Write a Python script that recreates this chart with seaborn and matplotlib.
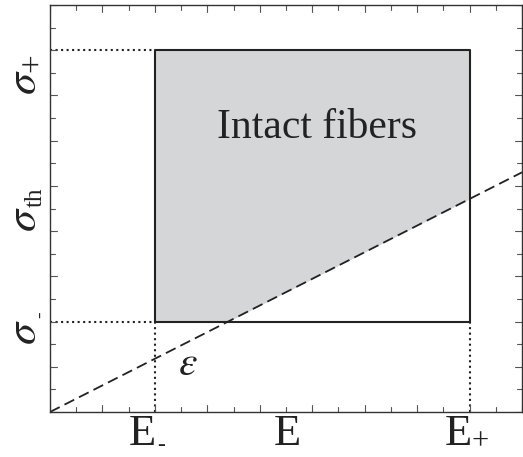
import numpy as np
import matplotlib.pyplot as plt
import seaborn as sns

# Data (axis units: 0..9 on both axes)
e_bounds = [2.0, 8.0]          # E-, E+
sig_bounds = [2.0, 8.0]        # sigma-, sigma+
eps_x = [0.0, 9.0]             # dashed line through origin
eps_y = [0.0, 5.3]

# axis labels: main glyph, subscript, where they sit along the axis
x_label_main = ['E', 'E', 'E']
x_label_sub = ['-', '', '+']
x_label_pos = [1.76, 4.53, 7.79]
y_label_main = ['$\\sigma$', '$\\sigma$', '$\\sigma$']
y_label_sub = ['-', 'th', '+']
y_label_pos = [1.76, 4.27, 7.29]

sns.set_theme(style="ticks")
plt.rcParams['font.family'] = ['Liberation Serif', 'DejaVu Serif']
plt.rcParams['mathtext.fontset'] = 'stix'

fig = plt.figure(figsize=(5.23, 4.57), dpi=100)
ax = fig.add_axes([50 / 523, 1 - 412 / 457, 472 / 523, 407 / 457])
ink = '#222222'

# shaded region above the dashed line inside the box
slope = eps_y[1] / eps_x[1]
x_cross = sig_bounds[0] / slope
xs = np.array([e_bounds[0], x_cross, e_bounds[1]])
lower = np.maximum(slope * xs, sig_bounds[0])
ax.fill_between(xs, lower, sig_bounds[1], color='#d5d6d8', lw=0)

# box
bx = [e_bounds[0], e_bounds[1], e_bounds[1], e_bounds[0], e_bounds[0]]
by = [sig_bounds[0], sig_bounds[0], sig_bounds[1], sig_bounds[1], sig_bounds[0]]
ax.plot(bx, by, color=ink, lw=1.5)

# dotted guides
ax.plot([0, e_bounds[0]], [sig_bounds[1], sig_bounds[1]], ls=':', color=ink, lw=1.5)
ax.plot([0, e_bounds[0]], [sig_bounds[0], sig_bounds[0]], ls=':', color=ink, lw=1.5)
ax.plot([e_bounds[0], e_bounds[0]], [0, sig_bounds[0]], ls=':', color=ink, lw=1.5)
ax.plot([e_bounds[1], e_bounds[1]], [0, sig_bounds[0]], ls=':', color=ink, lw=1.5)

# dashed epsilon line
sns.lineplot(x=eps_x, y=eps_y, ax=ax, color=ink, lw=1.3)
ax.lines[-1].set_dashes([6, 3])

ax.text(5.1, 6.28, 'Intact fibers', fontsize=30, ha='center', va='center', color=ink)
ax.text(2.63, 1.04, '$\\varepsilon$', fontsize=30, ha='center', va='center', color=ink)

ax.set_xlim(0, 9)
ax.set_ylim(0, 9)
ax.set_xticks([])
ax.set_yticks([])

# x labels (E with subscripts)
xt = ax.get_xaxis_transform()
x_base = -0.081
sub_off_x = {'-': (18.5, -6, 17), '+': (22, -4, 22)}
for main, sub, pos in zip(x_label_main, x_label_sub, x_label_pos):
    ax.annotate(main, xy=(pos, x_base), xycoords=xt, fontsize=32,
                ha='center', va='baseline', color=ink, annotation_clip=False)
    if sub:
        dx, dy, fs = sub_off_x[sub]
        ax.annotate(sub, xy=(pos, x_base), xycoords=xt, xytext=(dx, dy),
                    textcoords='offset pixels', fontsize=fs, ha='center',
                    va='baseline', color=ink, annotation_clip=False)

# y labels (sigma with subscripts), rotated
yt = ax.get_yaxis_transform()
sub_off_y = {'-': (20, 18, 14), 'th': (17, 22, 18), '+': (16.8, 20, 24)}
for main, sub, pos in zip(y_label_main, y_label_sub, y_label_pos):
    ax.annotate(main, xy=(-0.053, pos), xycoords=yt, fontsize=32, rotation=90,
                rotation_mode='anchor', ha='center', va='center', color=ink,
                annotation_clip=False)
    dx, dy, fs = sub_off_y[sub]
    ax.annotate(sub, xy=(-0.053, pos), xycoords=yt, xytext=(dx, dy),
                textcoords='offset pixels', fontsize=fs, rotation=90,
                rotation_mode='anchor', ha='center', va='baseline', color=ink,
                annotation_clip=False)

# tick marks every half unit, longer at integers
tick_col = '#555555'
for v in np.arange(0, 9.01, 0.5):
    lx = 0.15 if v % 1 == 0 else 0.1
    ly = 0.13 if v % 1 == 0 else 0.09
    ax.plot([v, v], [0, lx], color=tick_col, lw=0.8)
    ax.plot([v, v], [9, 9 - lx], color=tick_col, lw=0.8)
    ax.plot([0, ly], [v, v], color=tick_col, lw=0.8)
    ax.plot([9, 9 - ly], [v, v], color=tick_col, lw=0.8)

for s in ax.spines.values():
    s.set_color('#333333')
    s.set_linewidth(1.0)

fig.savefig('out.png', dpi=100)
